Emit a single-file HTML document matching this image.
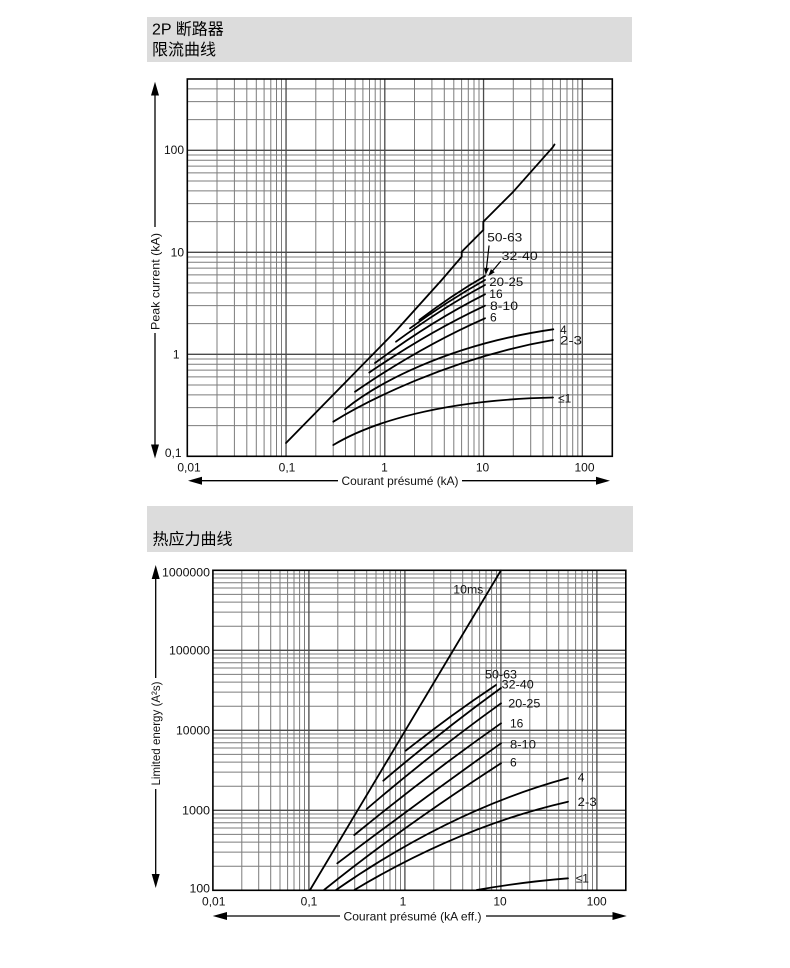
<!DOCTYPE html>
<html>
<head>
<meta charset="utf-8">
<style>
html,body{margin:0;padding:0;background:#fff;}
svg{display:block;}
</style>
</head>
<body>
<svg width="790" height="968" viewBox="0 0 790 968" xmlns="http://www.w3.org/2000/svg" font-family="'Liberation Sans','Noto Sans CJK SC',sans-serif">
<rect x="0" y="0" width="790" height="968" fill="#fff"/>

<!-- Header 1 -->
<rect x="147" y="17" width="485" height="45" fill="#dcdcdc"/>
<text x="152" y="34.5" font-size="16" fill="#000">2P 断路器</text>
<text x="152" y="55" font-size="16" fill="#000">限流曲线</text>

<!-- ============ TOP CHART ============ -->
<g fill="none">
<path stroke="#7c7c7c" stroke-width="1" d="
M217.0 79V456.3 M234.4 79V456.3 M246.8 79V456.3 M256.3 79V456.3 M264.1 79V456.3 M270.8 79V456.3 M276.5 79V456.3 M281.5 79V456.3
M315.8 79V456.3 M333.2 79V456.3 M345.5 79V456.3 M355.1 79V456.3 M362.9 79V456.3 M369.5 79V456.3 M375.2 79V456.3 M380.3 79V456.3
M414.5 79V456.3 M431.9 79V456.3 M444.3 79V456.3 M453.8 79V456.3 M461.6 79V456.3 M468.3 79V456.3 M474.0 79V456.3 M479.0 79V456.3
M513.3 79V456.3 M530.7 79V456.3 M543.0 79V456.3 M552.6 79V456.3 M560.4 79V456.3 M567.0 79V456.3 M572.7 79V456.3 M577.8 79V456.3
M187.3 425.6H612.3 M187.3 407.6H612.3 M187.3 394.9H612.3 M187.3 385.0H612.3 M187.3 376.9H612.3 M187.3 370.1H612.3 M187.3 364.2H612.3 M187.3 359.0H612.3
M187.3 323.6H612.3 M187.3 305.6H612.3 M187.3 292.9H612.3 M187.3 283.0H612.3 M187.3 274.9H612.3 M187.3 268.1H612.3 M187.3 262.2H612.3 M187.3 257.0H612.3
M187.3 221.6H612.3 M187.3 203.6H612.3 M187.3 190.9H612.3 M187.3 181.0H612.3 M187.3 172.9H612.3 M187.3 166.1H612.3 M187.3 160.2H612.3 M187.3 155.0H612.3
M187.3 119.6H612.3 M187.3 101.6H612.3 M187.3 88.9H612.3"/>
<path stroke="#4a4a4a" stroke-width="1.3" d="M286.05 79V456.3 M384.8 79V456.3 M483.55 79V456.3 M582.3 79V456.3 M187.3 354.3H612.3 M187.3 252.3H612.3 M187.3 150.3H612.3"/>
<rect x="187.3" y="79" width="425" height="377.3" stroke="#000" stroke-width="1.6"/>

<!-- curves -->
<g stroke="#000" stroke-width="1.8" stroke-linecap="round" stroke-linejoin="round">
<path d="M286,443 L396.7,330 L441.7,280 L461.7,256.7 L461.7,251.7 L483.3,230 L483.3,221.7 L513.3,191.7 L552.7,147.3 L554.5,144.5"/>
<path d="M333.3,445 C370,423 440,400 553,397.5"/>
<path d="M333.3,421.7 C365,402 450,358 553,340"/>
<path d="M345,409.3 C375,385 445,345 553.3,329.3"/>
<path d="M355,391.7 Q420,347 485,318.3"/>
<path d="M369.3,372.5 Q427,333 485,305.7"/>
<path d="M375,363 Q430,322 485,294.3"/>
<path d="M396,341.7 Q440.5,309 485,285"/>
<path d="M410,328.3 Q447.5,301 485,280"/>
<path d="M419.3,320 Q452,295 485,276"/>
<path stroke-width="1.2" d="M489,246 L486.5,268"/>
<path stroke-width="1.2" d="M500.5,261.5 L492.8,270.6"/>
</g>
<polygon fill="#000" points="485.7,275 489.0,268.3 484.0,267.7"/>
<polygon fill="#000" points="488.3,276 494.7,272.2 490.9,269.0"/>
</g>

<g font-size="12" fill="#111">
<text x="487.3" y="241.7" textLength="35" lengthAdjust="spacingAndGlyphs">50-63</text>
<text x="501.7" y="260" textLength="36" lengthAdjust="spacingAndGlyphs">32-40</text>
<text x="489.3" y="286" textLength="34" lengthAdjust="spacingAndGlyphs">20-25</text>
<text x="489.3" y="298">16</text>
<text x="490" y="310" textLength="28" lengthAdjust="spacingAndGlyphs">8-10</text>
<text x="490" y="321.7">6</text>
<text x="560" y="334">4</text>
<text x="560" y="344.7" textLength="22" lengthAdjust="spacingAndGlyphs">2-3</text>
<text x="558" y="402.7">≤1</text>
</g>

<!-- top tick labels -->
<g font-size="12" fill="#111">
<text x="184" y="154.2" text-anchor="end">100</text>
<text x="184" y="256.4" text-anchor="end">10</text>
<text x="179.5" y="358.5" text-anchor="end">1</text>
<text x="181.5" y="457" text-anchor="end">0,1</text>
<text x="189" y="471.5" text-anchor="middle">0,01</text>
<text x="287" y="471.5" text-anchor="middle">0,1</text>
<text x="384.5" y="471.5" text-anchor="middle">1</text>
<text x="482.5" y="471.5" text-anchor="middle">10</text>
<text x="584.5" y="471.5" text-anchor="middle">100</text>
</g>

<!-- top axes arrows -->
<g stroke="#000" stroke-width="1.3">
<path d="M155 94V227 M155 333V446"/>
<path d="M201 480.7H338 M462 480.7H597"/>
</g>
<g fill="#000">
<polygon points="155,81.7 151,95.5 159,95.5"/>
<polygon points="155,458.5 151,444.5 159,444.5"/>
<polygon points="188,480.7 202,476.7 202,484.7"/>
<polygon points="610,480.7 596,476.7 596,484.7"/>
</g>
<text transform="translate(159.5,281.5) rotate(-90)" text-anchor="middle" font-size="12" fill="#111" textLength="97" lengthAdjust="spacingAndGlyphs">Peak current  (kA)</text>
<text x="400" y="485" text-anchor="middle" font-size="12" fill="#111" textLength="117" lengthAdjust="spacingAndGlyphs">Courant présumé (kA)</text>

<!-- Header 2 -->
<rect x="147" y="506" width="486" height="46" fill="#dcdcdc"/>
<text x="152.5" y="544.5" font-size="16" fill="#000">热应力曲线</text>

<!-- ============ BOTTOM CHART ============ -->
<g fill="none">
<path stroke="#7c7c7c" stroke-width="1" d="
M241.8 570.3V890.3 M258.7 570.3V890.3 M270.7 570.3V890.3 M280.0 570.3V890.3 M287.6 570.3V890.3 M294.0 570.3V890.3 M299.6 570.3V890.3 M304.5 570.3V890.3
M337.8 570.3V890.3 M354.7 570.3V890.3 M366.7 570.3V890.3 M376.0 570.3V890.3 M383.6 570.3V890.3 M390.0 570.3V890.3 M395.6 570.3V890.3 M400.5 570.3V890.3
M433.8 570.3V890.3 M450.7 570.3V890.3 M462.7 570.3V890.3 M472.0 570.3V890.3 M479.6 570.3V890.3 M486.0 570.3V890.3 M491.6 570.3V890.3 M496.5 570.3V890.3
M529.8 570.3V890.3 M546.7 570.3V890.3 M558.7 570.3V890.3 M568.0 570.3V890.3 M575.6 570.3V890.3 M582.0 570.3V890.3 M587.6 570.3V890.3 M592.5 570.3V890.3
M212.9 866.2H625.8 M212.9 852.1H625.8 M212.9 842.1H625.8 M212.9 834.4H625.8 M212.9 828.0H625.8 M212.9 822.7H625.8 M212.9 818.0H625.8 M212.9 814.0H625.8
M212.9 786.2H625.8 M212.9 772.1H625.8 M212.9 762.1H625.8 M212.9 754.4H625.8 M212.9 748.0H625.8 M212.9 742.7H625.8 M212.9 738.0H625.8 M212.9 734.0H625.8
M212.9 706.2H625.8 M212.9 692.1H625.8 M212.9 682.1H625.8 M212.9 674.4H625.8 M212.9 668.0H625.8 M212.9 662.7H625.8 M212.9 658.0H625.8 M212.9 654.0H625.8
M212.9 626.2H625.8 M212.9 612.1H625.8 M212.9 602.1H625.8 M212.9 594.4H625.8 M212.9 588.0H625.8 M212.9 582.7H625.8 M212.9 578.0H625.8 M212.9 574.0H625.8"/>
<path stroke="#4a4a4a" stroke-width="1.3" d="M308.9 570.3V890.3 M404.9 570.3V890.3 M500.9 570.3V890.3 M596.9 570.3V890.3 M212.9 810.3H625.8 M212.9 730.3H625.8 M212.9 650.3H625.8"/>
<rect x="212.9" y="570.3" width="412.9" height="320" stroke="#000" stroke-width="1.6"/>

<g stroke="#000" stroke-width="1.8" stroke-linecap="round" stroke-linejoin="round">
<path d="M310,890 L501,570.3"/>
<path d="M405.7,750.7 Q450.85,715 496,685"/>
<path d="M383.3,780.7 Q442.15,730.65 501,688"/>
<path d="M366.7,809 Q433.85,751.45 501,703.3"/>
<path d="M354.3,835 Q427.65,774.85 501,723.3"/>
<path d="M337.3,863.3 Q419.15,801.3 501,743.3"/>
<path d="M324,890 Q398.9,829.35 501,763.3"/>
<path d="M336,890 Q452,809.4 568,778"/>
<path d="M354.3,890 Q460.85,826.15 568,801.7"/>
<path d="M476.7,890 Q522,882 568,878.3"/>
</g>
</g>

<g font-size="12" fill="#111">
<text x="453.3" y="593.3" textLength="30" lengthAdjust="spacingAndGlyphs">10ms</text>
<text x="485" y="678.3" textLength="32" lengthAdjust="spacingAndGlyphs">50-63</text>
<text x="501.7" y="688.3" textLength="32" lengthAdjust="spacingAndGlyphs">32-40</text>
<text x="508.3" y="707.3" textLength="32" lengthAdjust="spacingAndGlyphs">20-25</text>
<text x="510" y="727.3">16</text>
<text x="510" y="748.3" textLength="26" lengthAdjust="spacingAndGlyphs">8-10</text>
<text x="510" y="766.7">6</text>
<text x="577.7" y="781.7">4</text>
<text x="577.7" y="806" textLength="19" lengthAdjust="spacingAndGlyphs">2-3</text>
<text x="575.7" y="882.7">≤1</text>
</g>

<g font-size="12" fill="#111">
<text x="210" y="576.5" text-anchor="end" textLength="48" lengthAdjust="spacingAndGlyphs">1000000</text>
<text x="210" y="654.5" text-anchor="end" textLength="41" lengthAdjust="spacingAndGlyphs">100000</text>
<text x="210" y="734.5" text-anchor="end" textLength="34" lengthAdjust="spacingAndGlyphs">10000</text>
<text x="210" y="814.5" text-anchor="end" textLength="28" lengthAdjust="spacingAndGlyphs">1000</text>
<text x="210" y="892.5" text-anchor="end" textLength="20.5" lengthAdjust="spacingAndGlyphs">100</text>
<text x="213.7" y="905.5" text-anchor="middle">0,01</text>
<text x="309" y="905.5" text-anchor="middle">0,1</text>
<text x="403" y="905.5" text-anchor="middle">1</text>
<text x="500" y="905.5" text-anchor="middle">10</text>
<text x="596.7" y="905.5" text-anchor="middle">100</text>
</g>

<g stroke="#000" stroke-width="1.3">
<path d="M155.7 578V678 M155.7 789V875"/>
<path d="M226 916H340 M486 916H613"/>
</g>
<g fill="#000">
<polygon points="155.7,565 151.7,579 159.7,579"/>
<polygon points="155.7,888 151.7,874 159.7,874"/>
<polygon points="212.7,916 227,912 227,920"/>
<polygon points="626.7,916 612.5,912 612.5,920"/>
</g>
<text transform="translate(160,733.5) rotate(-90)" text-anchor="middle" font-size="12" fill="#111" textLength="104" lengthAdjust="spacingAndGlyphs">Limited energy (A²s)</text>
<text x="412.5" y="920.5" text-anchor="middle" font-size="12" fill="#111" textLength="138" lengthAdjust="spacingAndGlyphs">Courant présumé (kA eff.)</text>
</svg>
</body>
</html>
